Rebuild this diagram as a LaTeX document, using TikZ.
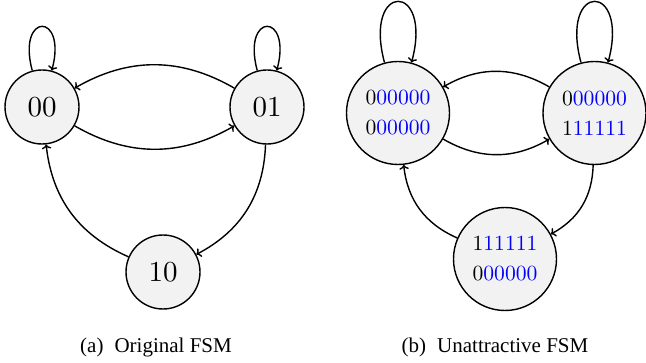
\documentclass[tikz,border=0pt]{standalone}
\usepackage{fontspec}
\newfontfamily\capfont{Liberation Serif}
\newfontfamily\nodefont{lmroman10-regular}[Extension=.otf]
\usetikzlibrary{arrows.meta}
\begin{document}
\begin{tikzpicture}[x=1pt,y=1pt,
  every path/.style={line width=1.4pt},
  stsmall/.style={circle,draw,line width=1.4pt,fill=black!5,minimum size=74pt,inner sep=0pt,font=\nodefont\fontsize{29}{34}\selectfont},
  stbig/.style={circle,draw,line width=1.4pt,fill=black!5,minimum size=103pt,inner sep=0pt,align=center,font=\nodefont\fontsize{21.6}{30}\selectfont},
  arr/.style={-{To[length=4.5pt,width=9.5pt]},line width=1.4pt},
  caption/.style={anchor=base,font=\capfont\fontsize{21}{24}\selectfont,inner sep=0pt}]
\useasboundingbox (0,0) rectangle (646,362);
% (a)
\node[stsmall] (a0) at (42,255) {00};
\node[stsmall] (a1) at (267,255) {01};
\node[stsmall] (a2) at (163,90) {10};
\draw[arr] (a0) to[loop above] (a0);
\draw[arr] (a1) to[loop above] (a1);
\draw[arr] (a0) to[bend right=30] (a1);
\draw[arr] (a1) to[bend right=30] (a0);
\draw[arr] (a1) to[bend left=30] (a2);
\draw[arr] (a2) to[bend left=30] (a0);
\node[caption] (ca) at (156,10) {(a)\hspace{11pt}Original FSM};
% (b)
\node[stbig] (b0) at (398,249) {0\textcolor{blue}{00000}\\0\textcolor{blue}{00000}};
\node[stbig] (b1) at (594.5,249) {0\textcolor{blue}{00000}\\1\textcolor{blue}{11111}};
\node[stbig] (b2) at (505,103) {1\textcolor{blue}{11111}\\0\textcolor{blue}{00000}};
\draw[arr] (b0) to[loop above] (b0);
\draw[arr] (b1) to[loop above] (b1);
\draw[arr] (b0) to[bend right=30] (b1);
\draw[arr] (b1) to[bend right=30] (b0);
\draw[arr] (b1) to[bend left=30] (b2);
\draw[arr] (b2) to[bend left=30] (b0);
\node[caption] (cb) at (495,10) {(b)\hspace{11pt}Unattractive FSM};
\end{tikzpicture}
\end{document}
